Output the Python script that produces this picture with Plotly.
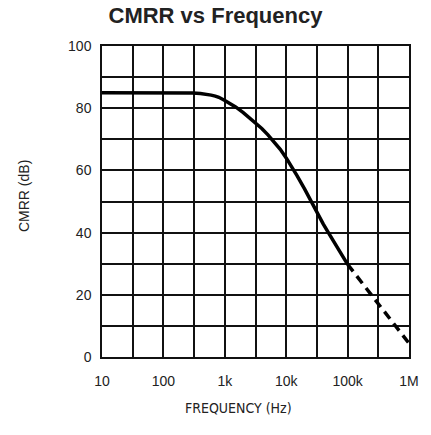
import plotly.graph_objects as go

# Measured CMRR (solid) and extrapolated roll-off (dashed)
freq_hz = [10, 100, 200, 300, 400, 500, 600, 700, 800, 1000, 1200, 1500,
           2000, 2500, 3000, 4000, 5000, 6000, 7000, 8000, 10000, 12500,
           15000, 20000, 25000, 31600, 40000, 50000, 70000, 100000]
cmrr_db = [85.0, 85.0, 85.0, 84.9, 84.7, 84.5, 84.2, 83.9, 83.5, 82.5, 81.6, 80.4,
           78.6, 77.0, 75.8, 73.5, 71.5, 69.8, 68.2, 66.8, 64.0, 61.0,
           58.3, 54.0, 50.2, 46.4, 42.8, 39.6, 34.6, 29.8]

ext_freq_hz = [100000, 316000, 1000000]
ext_cmrr_db = [29.8, 17.0, 4.4]

# Grid every half decade; labels only on decades
x_tickvals = [10, 31.62, 100, 316.2, 1000, 3162, 10000, 31620, 100000, 316200, 1000000]
x_ticktext = ["10", "", "100", "", "1k", "", "10k", "", "100k", "", "1M"]
y_tickvals = [0, 10, 20, 30, 40, 50, 60, 70, 80, 90, 100]
y_ticktext = ["0", "", "20", "", "40", "", "60", "", "80", "", "100"]

fig = go.Figure()
fig.add_trace(go.Scatter(x=freq_hz, y=cmrr_db, mode="lines",
                         line=dict(color="black", width=3.5),
                         showlegend=False, hoverinfo="skip"))
fig.add_trace(go.Scatter(x=ext_freq_hz, y=ext_cmrr_db, mode="lines",
                         line=dict(color="black", width=3.5, dash="9px,6px"),
                         showlegend=False, hoverinfo="skip"))

tick_font = dict(family="Liberation Sans, Arial, sans-serif", size=14, color="#222")
x_label_font = dict(family="Liberation Sans Narrow, DejaVu Sans Condensed, Liberation Sans, sans-serif",
                    size=14, color="#222")
y_label_font = dict(family="Liberation Sans, Arial, sans-serif", size=14, color="#222")

fig.update_xaxes(type="log", range=[1, 6], tickmode="array",
                 tickvals=x_tickvals, ticktext=x_ticktext,
                 showgrid=True, gridcolor="#111", gridwidth=1.5,
                 showline=True, linecolor="#111", linewidth=1.5, mirror=True,
                 ticks="", ticklabelstandoff=10, tickfont=tick_font, zeroline=False)
fig.update_yaxes(range=[0, 100], tickmode="array",
                 tickvals=y_tickvals, ticktext=y_ticktext,
                 showgrid=True, gridcolor="#111", gridwidth=1.5,
                 showline=True, linecolor="#111", linewidth=1.5, mirror=True,
                 ticks="", ticklabelstandoff=6, tickfont=tick_font, zeroline=False)

fig.add_annotation(text="FREQUENCY (Hz)", xref="paper", yref="paper",
                   x=0.444, y=-0.164, showarrow=False, font=x_label_font,
                   xanchor="center", yanchor="middle")
fig.add_annotation(text="CMRR (dB)", xref="paper", yref="paper",
                   x=(23 - 102) / 311, y=(357 - 196) / 311, showarrow=False,
                   font=y_label_font, textangle=-90,
                   xanchor="center", yanchor="middle")

fig.update_layout(
    width=431, height=435,
    margin=dict(l=102, r=18, t=46, b=78),
    paper_bgcolor="white", plot_bgcolor="white",
    title=dict(text="<b>CMRR vs Frequency</b>", x=0.5, xanchor="center",
               y=1 - 15 / 435, yanchor="middle",
               font=dict(family="Liberation Sans, Arial, sans-serif", size=22, color="#222")),
)

fig.write_html("out.html")
